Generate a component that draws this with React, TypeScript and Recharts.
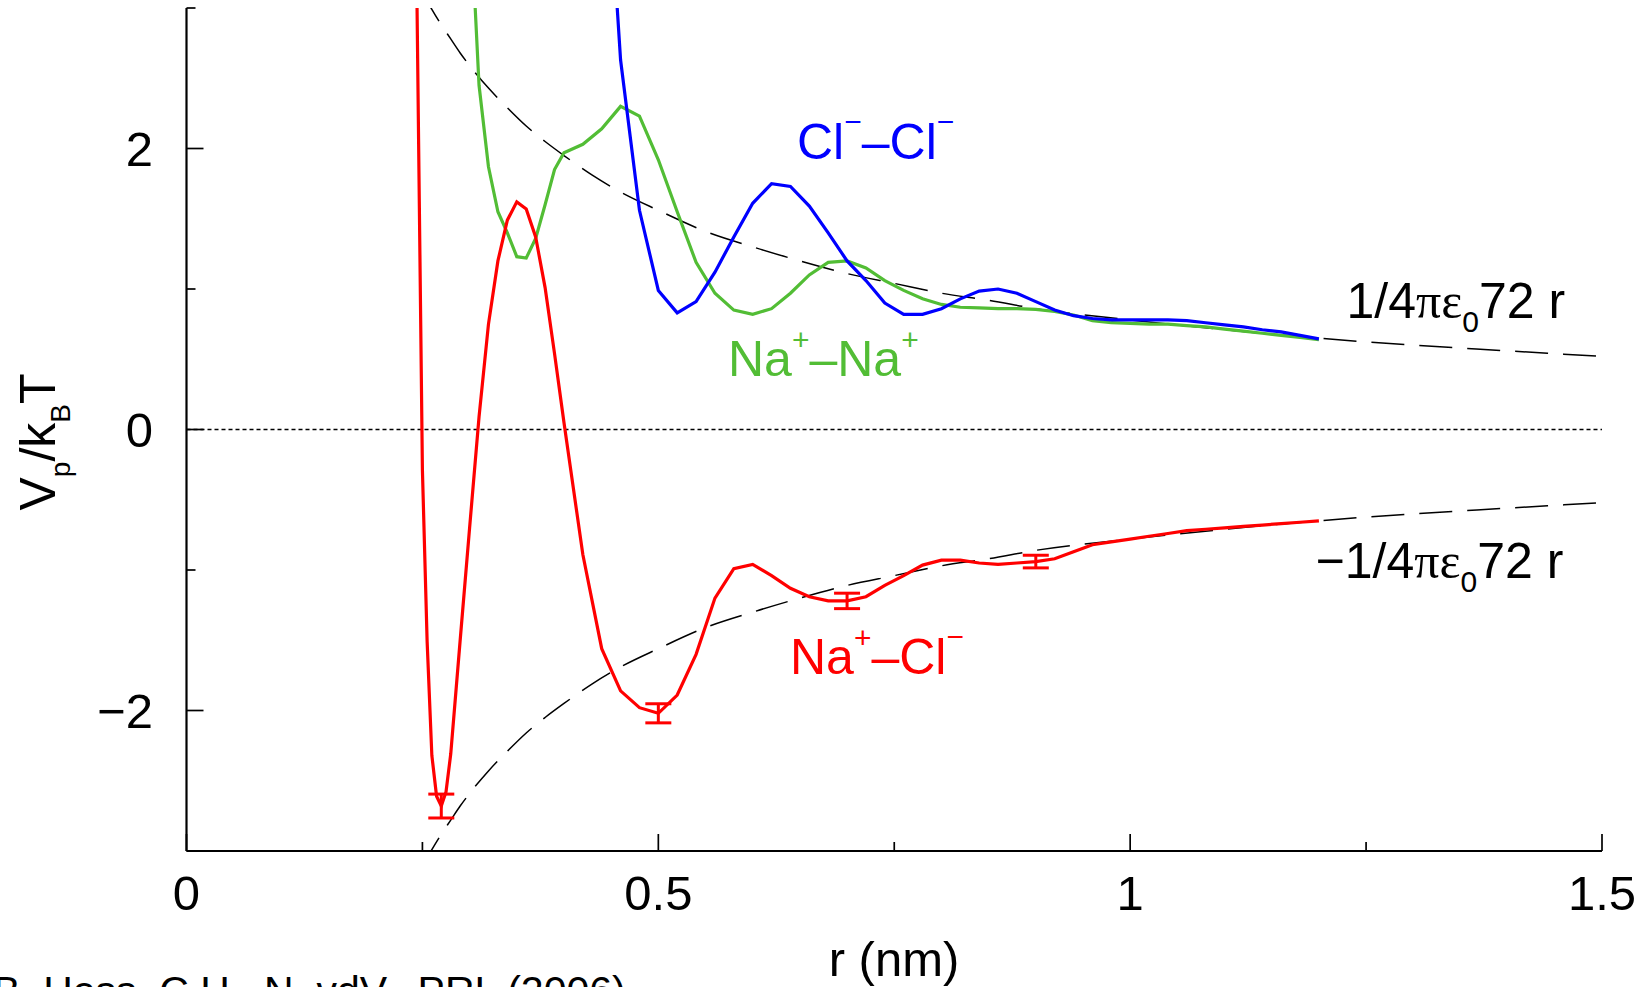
import React from "react";
import { LineChart, Line, XAxis, YAxis, ReferenceLine, ErrorBar } from "recharts";

// Na+ - Cl- effective pair potential (kBT) against r (nm)
const naClR = [0.24, 0.25, 0.255, 0.26, 0.265, 0.27, 0.275, 0.28, 0.29, 0.3, 0.31, 0.32, 0.33, 0.34, 0.35, 0.36, 0.37, 0.38, 0.39, 0.4, 0.41, 0.42, 0.44, 0.46, 0.48, 0.5, 0.52, 0.54, 0.56, 0.58, 0.6, 0.62, 0.64, 0.66, 0.68, 0.7, 0.72, 0.74, 0.76, 0.78, 0.8, 0.82, 0.84, 0.86, 0.88, 0.9, 0.92, 0.94, 0.96, 0.98, 1.0, 1.02, 1.04, 1.06, 1.08, 1.1, 1.12, 1.14, 1.16, 1.18, 1.2];
const naClV = [5.5, -0.29, -1.51, -2.32, -2.61, -2.68, -2.58, -2.31, -1.5, -0.7, 0.09, 0.75, 1.2, 1.49, 1.62, 1.57, 1.37, 1.01, 0.54, 0.05, -0.42, -0.89, -1.56, -1.86, -1.98, -2.02, -1.89, -1.6, -1.2, -0.99, -0.96, -1.04, -1.13, -1.19, -1.22, -1.22, -1.19, -1.11, -1.04, -0.965, -0.93, -0.93, -0.95, -0.96, -0.95, -0.94, -0.92, -0.87, -0.82, -0.8, -0.78, -0.76, -0.74, -0.72, -0.71, -0.7, -0.69, -0.68, -0.67, -0.66, -0.65];
const errR = [0.27, 0.5, 0.7, 0.9];
const errV = [0.085, 0.068, 0.055, 0.045];

// Na+ - Na+
const naNaR = [0.3, 0.31, 0.32, 0.33, 0.34, 0.35, 0.36, 0.37, 0.38, 0.39, 0.4, 0.42, 0.44, 0.46, 0.48, 0.5, 0.52, 0.54, 0.56, 0.58, 0.6, 0.62, 0.64, 0.66, 0.68, 0.7, 0.72, 0.74, 0.76, 0.78, 0.8, 0.82, 0.84, 0.86, 0.88, 0.9, 0.92, 0.94, 0.96, 0.98, 1.0, 1.02, 1.04, 1.06, 1.08, 1.1, 1.12, 1.14, 1.16, 1.18, 1.2];
const naNaV = [3.8, 2.45, 1.87, 1.55, 1.4, 1.23, 1.22, 1.36, 1.6, 1.85, 1.97, 2.03, 2.14, 2.3, 2.23, 1.92, 1.55, 1.19, 0.97, 0.85, 0.82, 0.86, 0.97, 1.1, 1.19, 1.2, 1.15, 1.06, 0.99, 0.93, 0.89, 0.87, 0.865, 0.86, 0.86, 0.855, 0.84, 0.815, 0.775, 0.76, 0.755, 0.75, 0.75, 0.74, 0.73, 0.715, 0.7, 0.685, 0.67, 0.655, 0.64];

// Cl- - Cl-
const clClR = [0.44, 0.46, 0.48, 0.5, 0.52, 0.54, 0.56, 0.58, 0.6, 0.62, 0.64, 0.66, 0.68, 0.7, 0.72, 0.74, 0.76, 0.78, 0.8, 0.82, 0.84, 0.86, 0.88, 0.9, 0.92, 0.94, 0.96, 0.98, 1.0, 1.02, 1.04, 1.06, 1.08, 1.1, 1.12, 1.14, 1.16, 1.18, 1.2];
const clClV = [4.7, 2.63, 1.56, 0.99, 0.83, 0.91, 1.12, 1.37, 1.61, 1.75, 1.73, 1.59, 1.4, 1.2, 1.06, 0.9, 0.82, 0.82, 0.86, 0.93, 0.985, 1.0, 0.97, 0.91, 0.85, 0.81, 0.79, 0.78, 0.78, 0.78, 0.78, 0.775, 0.76, 0.745, 0.73, 0.71, 0.695, 0.67, 0.645];

// screened Coulomb reference curves, +/- 1/4 pi eps0 72 r
const coulR = [0.25, 0.26, 0.27, 0.28, 0.29, 0.3, 0.32, 0.34, 0.36, 0.38, 0.4, 0.43, 0.46, 0.5, 0.55, 0.6, 0.65, 0.7, 0.75, 0.8, 0.85, 0.9, 1.0, 1.1, 1.2, 1.3, 1.4, 1.5];
const coulPlusV = [3.11, 2.99, 2.88, 2.78, 2.68, 2.59, 2.43, 2.29, 2.16, 2.05, 1.95, 1.81, 1.69, 1.56, 1.41, 1.3, 1.2, 1.11, 1.04, 0.97, 0.92, 0.86, 0.78, 0.71, 0.65, 0.6, 0.56, 0.52];
const coulMinusV = [-3.11, -2.99, -2.88, -2.78, -2.68, -2.59, -2.43, -2.29, -2.16, -2.05, -1.95, -1.81, -1.69, -1.56, -1.41, -1.3, -1.2, -1.11, -1.04, -0.97, -0.92, -0.86, -0.78, -0.71, -0.65, -0.6, -0.56, -0.52];

const xTicks = [0, 0.25, 0.5, 0.75, 1, 1.25, 1.5];
const yTicks = [-3, -2, -1, 0, 1, 2, 3];

const naClData = naClR.map((r, i) => {
  const k = errR.indexOf(r);
  return { r, v: naClV[i], err: k >= 0 ? errV[k] : undefined };
});
const naNaData = naNaR.map((r, i) => ({ r, v: naNaV[i] }));
const clClData = clClR.map((r, i) => ({ r, v: clClV[i] }));
const plusData = coulR.map((r, i) => ({ r, v: coulPlusV[i] }));
const minusData = coulR.map((r, i) => ({ r, v: coulMinusV[i] }));

const FONT = '"Liberation Sans", Arial, Helvetica, sans-serif';
const SERIF = '"Liberation Serif", "Times New Roman", serif';
const TICK_FS = 49;
const MAJOR = 17;
const MINOR = 9;
const LW = 3.2;

const isMajorX = (v: number) => Math.abs(v * 2 - Math.round(v * 2)) < 1e-6;
const isMajorY = (v: number) => Math.abs(v) % 2 === 0;
const yLabel = (v: number) => (v < 0 ? "\u2212" + Math.abs(v) : String(v));

function BottomTick(props: any) {
  const { x, y, payload } = props;
  const v = payload.value;
  const major = isMajorX(v);
  return (
    <g>
      <line x1={x} y1={y} x2={x} y2={y - (major ? MAJOR : MINOR)} stroke="#000" strokeWidth={1.7} />
      {major && (
        <text x={x} y={y + 59} textAnchor="middle" fontSize={TICK_FS} fontFamily={FONT} fill="#000">
          {String(v)}
        </text>
      )}
    </g>
  );
}

function TopTick(props: any) {
  const { x, y, payload } = props;
  const major = isMajorX(payload.value);
  return <line x1={x} y1={y} x2={x} y2={y + (major ? MAJOR : MINOR)} stroke="#000" strokeWidth={1.7} />;
}

function LeftTick(props: any) {
  const { x, y, payload } = props;
  const v = payload.value;
  const major = isMajorY(v);
  return (
    <g>
      <line x1={x} y1={y} x2={x + (major ? MAJOR : MINOR)} y2={y} stroke="#000" strokeWidth={1.7} />
      {major && Math.abs(v) < 3 && (
        <text x={x - 33.5} y={y + 17} textAnchor="end" fontSize={TICK_FS} fontFamily={FONT} fill="#000">
          {yLabel(v)}
        </text>
      )}
    </g>
  );
}

function RightTick(props: any) {
  const { x, y, payload } = props;
  const major = isMajorY(payload.value);
  return <line x1={x} y1={y} x2={x - (major ? MAJOR : MINOR)} y2={y} stroke="#000" strokeWidth={1.7} />;
}

const frame = { stroke: "#000", strokeWidth: 2.2 };

export default function App() {
  return (
    <div
      style={{
        position: "absolute",
        left: 0,
        top: 0,
        width: 1652,
        height: 987,
        background: "#fff",
        overflow: "hidden",
      }}
    >
      <LineChart width={1652} height={987} margin={{ top: 8, right: 50, bottom: 0, left: 0 }}>
        <XAxis
          dataKey="r"
          type="number"
          domain={[0, 1.5]}
          ticks={xTicks}
          interval={0}
          allowDataOverflow
          height={136}
          tick={BottomTick}
          tickLine={false}
          tickSize={0}
          tickMargin={0}
          axisLine={frame}
        />
        <XAxis
          xAxisId="top"
          orientation="top"
          type="number"
          domain={[0, 1.5]}
          ticks={xTicks}
          interval={0}
          height={0}
          tick={TopTick}
          tickLine={false}
          tickSize={0}
          tickMargin={0}
          axisLine={frame}
        />
        <YAxis
          type="number"
          domain={[-3, 3]}
          ticks={yTicks}
          interval={0}
          allowDataOverflow
          width={186.5}
          tick={LeftTick}
          tickLine={false}
          tickSize={0}
          tickMargin={0}
          axisLine={frame}
        />
        <YAxis
          yAxisId="right"
          orientation="right"
          type="number"
          domain={[-3, 3]}
          ticks={yTicks}
          interval={0}
          width={0}
          tick={RightTick}
          tickLine={false}
          tickSize={0}
          tickMargin={0}
          axisLine={frame}
        />
        <ReferenceLine y={0} stroke="#000" strokeWidth={1.7} strokeDasharray="4 3" />
        <Line
          data={plusData}
          dataKey="v"
          type="monotone"
          stroke="#000"
          strokeWidth={1.5}
          strokeDasharray="33 15"
          dot={false}
          activeDot={false}
          isAnimationActive={false}
        />
        <Line
          data={minusData}
          dataKey="v"
          type="monotone"
          stroke="#000"
          strokeWidth={1.5}
          strokeDasharray="33 15"
          dot={false}
          activeDot={false}
          isAnimationActive={false}
        />
        <Line
          data={naNaData}
          dataKey="v"
          type="linear"
          stroke="#52bd35"
          strokeWidth={LW}
          dot={false}
          activeDot={false}
          isAnimationActive={false}
        />
        <Line
          data={clClData}
          dataKey="v"
          type="linear"
          stroke="#0000ff"
          strokeWidth={LW}
          dot={false}
          activeDot={false}
          isAnimationActive={false}
        />
        <Line
          data={naClData}
          dataKey="v"
          type="linear"
          stroke="#ff0000"
          strokeWidth={LW}
          dot={false}
          activeDot={false}
          isAnimationActive={false}
        >
          <ErrorBar dataKey="err" width={13} stroke="#ff0000" strokeWidth={3} direction="y" />
        </Line>
      </LineChart>

      <svg
        width={1652}
        height={987}
        style={{ position: "absolute", left: 0, top: 0, pointerEvents: "none" }}
        fontFamily={FONT}
      >
        <text transform="translate(55,442) rotate(-90)" textAnchor="middle" fontSize={50} fill="#000">
          V<tspan dy={15} fontSize={28}>p</tspan>
          <tspan dy={-15}>/k</tspan>
          <tspan dy={15} fontSize={28}>B</tspan>
          <tspan dy={-15}>T</tspan>
        </text>
        <text x={894} y={976} textAnchor="middle" fontSize={TICK_FS} fill="#000">
          r (nm)
        </text>
        <text x={797} y={159} fontSize={50} fill="#0000ff">
          Cl<tspan dy={-27} fontSize={30}>{"\u2212"}</tspan>
          <tspan dy={27}>{"\u2013"}Cl</tspan>
          <tspan dy={-27} fontSize={30}>{"\u2212"}</tspan>
        </text>
        <text x={728} y={376} fontSize={50} fill="#52bd35">
          Na<tspan dy={-26} fontSize={30}>+</tspan>
          <tspan dy={26}>{"\u2013"}Na</tspan>
          <tspan dy={-26} fontSize={30}>+</tspan>
        </text>
        <text x={790} y={674} fontSize={50} fill="#ff0000">
          Na<tspan dy={-26} fontSize={30}>+</tspan>
          <tspan dy={26}>{"\u2013"}Cl</tspan>
          <tspan dy={-27} fontSize={30}>{"\u2212"}</tspan>
        </text>
        <text x={1346.5} y={318} fontSize={50} fill="#000">
          1/4<tspan fontFamily={SERIF}>{"\u03c0\u03b5"}</tspan>
          <tspan dy={14} fontSize={30}>0</tspan>
          <tspan dy={-14}>72 r</tspan>
        </text>
        <text x={1315.5} y={578} fontSize={50} fill="#000">
          {"\u2212"}1/4<tspan fontFamily={SERIF}>{"\u03c0\u03b5"}</tspan>
          <tspan dy={14} fontSize={30}>0</tspan>
          <tspan dy={-14}>72 r</tspan>
        </text>
        <text x={-7} y={1005} fontSize={41} fill="#000">
          B. Hess, C.H., N. vdV., PRL (2006)
        </text>
      </svg>
    </div>
  );
}
